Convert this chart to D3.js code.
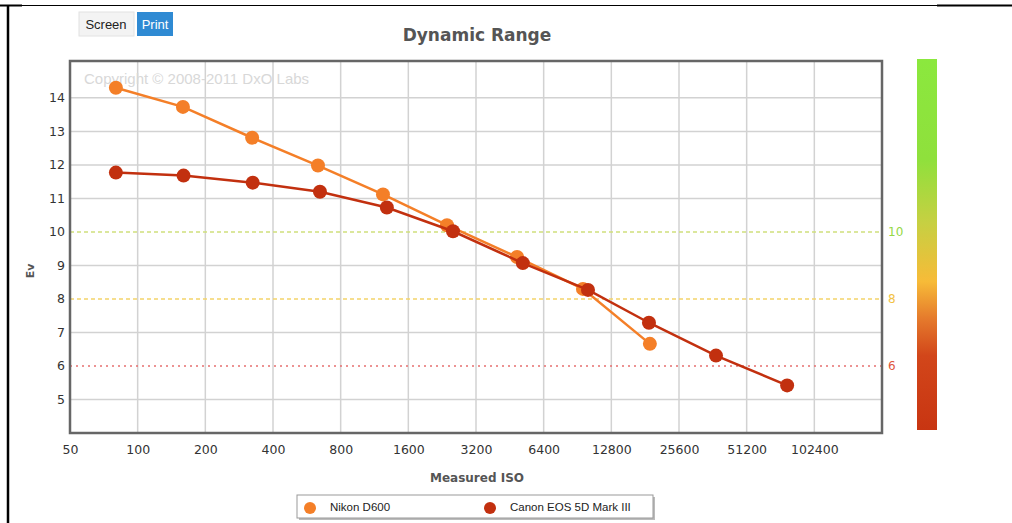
<!DOCTYPE html>
<html>
<head>
<meta charset="utf-8">
<script src="https://cdn.jsdelivr.net/npm/d3@7"></script>
<style>
    body { margin: 0; background: #fff; }
    svg { display: block; }
</style>
</head>
<body>
<svg id="chart"></svg>
<script>
//Данные графика
const nikonIso = [80, 159, 323, 634, 1234, 2378, 4872, 9570, 19000];
const nikonEv = [14.3, 13.73, 12.81, 11.98, 11.12, 10.2, 9.25, 8.3, 6.66];
const canonIso = [80, 160, 325, 647, 1284, 2528, 5170, 10080, 18820, 37400, 77500];
const canonEv = [11.77, 11.68, 11.47, 11.2, 10.73, 10.02, 9.07, 8.27, 7.29, 6.31, 5.42];
const isoTicks = [50, 100, 200, 400, 800, 1600, 3200, 6400, 12800, 25600, 51200, 102400];
const evTicks = [5, 6, 7, 8, 9, 10, 11, 12, 13, 14];
const thresholds = [10, 8, 6];
const thresholdColors = ["#cfe07c", "#f3d46a", "#e66f6f"];
const thresholdLabelColors = ["#95d846", "#f2c243", "#e0553c"];
const seriesNames = ["Nikon D600", "Canon EOS 5D Mark III"];
const seriesColors = ["#f47f28", "#c2300f"];

const width = 1012, height = 523;
const plot = {left: 70, top: 61, right: 882, bottom: 433};

const svg = d3.select("#chart")
    .attr("width", width)
    .attr("height", height)
    .style("font-family", "'DejaVu Sans', Verdana, sans-serif");

//Шкалы
const x = d3.scaleLog().base(2)
    .domain([50, 204800])
    .range([plot.left, plot.right]);
const y = d3.scaleLinear()
    .domain([4, 15.1])
    .range([plot.bottom, plot.top]);

//Рамка документа
svg.append("line")
    .attr("x1", 0).attr("x2", width)
    .attr("y1", 5.5).attr("y2", 5.5)
    .attr("stroke", "#000").attr("stroke-width", 1);
svg.append("line")
    .attr("x1", 0).attr("x2", 22)
    .attr("y1", 5.5).attr("y2", 5.5)
    .attr("stroke", "#000").attr("stroke-width", 2);
svg.append("line")
    .attr("x1", 937).attr("x2", width)
    .attr("y1", 5.5).attr("y2", 5.5)
    .attr("stroke", "#000").attr("stroke-width", 2);
svg.append("line")
    .attr("x1", 8).attr("x2", 8)
    .attr("y1", 5).attr("y2", height)
    .attr("stroke", "#000").attr("stroke-width", 2.5);

//Кнопки Screen / Print
svg.append("rect")
    .attr("x", 79).attr("y", 12).attr("width", 55).attr("height", 24)
    .attr("fill", "#f3f3f3").attr("stroke", "#e2e2e2");
svg.append("text")
    .attr("x", 106).attr("y", 28.5)
    .attr("text-anchor", "middle")
    .style("font-family", "'Liberation Sans', Arial, sans-serif")
    .style("font-size", "13px")
    .attr("fill", "#222")
    .text("Screen");
svg.append("rect")
    .attr("x", 137).attr("y", 12).attr("width", 36).attr("height", 24)
    .attr("fill", "#2f8ad3");
svg.append("text")
    .attr("x", 155).attr("y", 28.5)
    .attr("text-anchor", "middle")
    .style("font-family", "'Liberation Sans', Arial, sans-serif")
    .style("font-size", "13px")
    .attr("fill", "#fff")
    .text("Print");

//Заголовок
svg.append("text")
    .attr("x", 477).attr("y", 41)
    .attr("text-anchor", "middle")
    .style("font-size", "17px")
    .style("font-weight", "bold")
    .attr("fill", "#555")
    .text("Dynamic Range");

//Сетка
const grid = svg.append("g");
grid.selectAll(".vgrid")
    .data(isoTicks.slice(1))
    .join("line")
    .attr("x1", d => x(d)).attr("x2", d => x(d))
    .attr("y1", plot.top).attr("y2", plot.bottom)
    .attr("stroke", "#d2d2d2").attr("stroke-width", 1.5);
grid.selectAll(".hgrid")
    .data(evTicks.filter(d => !thresholds.includes(d)))
    .join("line")
    .attr("x1", plot.left).attr("x2", plot.right)
    .attr("y1", d => y(d)).attr("y2", d => y(d))
    .attr("stroke", "#d2d2d2").attr("stroke-width", 1.5);

//Пороговые линии
grid.selectAll(".threshold")
    .data(thresholds)
    .join("line")
    .attr("x1", plot.left).attr("x2", plot.right)
    .attr("y1", d => y(d)).attr("y2", d => y(d))
    .attr("stroke", (d, i) => thresholdColors[i])
    .attr("stroke-width", 1.5)
    .attr("stroke-dasharray", (d, i) => i == 2 ? "2,4" : "4,3");
svg.selectAll(".thresholdLabel")
    .data(thresholds)
    .join("text")
    .attr("x", plot.right + 6)
    .attr("y", d => y(d))
    .attr("dy", "0.35em")
    .style("font-size", "12px")
    .attr("fill", (d, i) => thresholdLabelColors[i])
    .text(d => d);

//Водяной знак
svg.append("text")
    .attr("x", 84).attr("y", 84)
    .style("font-family", "'Liberation Sans', Arial, sans-serif")
    .style("font-size", "15px")
    .attr("fill", "#d8d8d8")
    .text("Copyright © 2008-2011 DxO Labs");

//Оси
const xAxis = svg.append("g")
    .attr("transform", `translate(0, ${plot.bottom})`)
    .call(d3.axisBottom(x).tickValues(isoTicks).tickFormat(d => d).tickSize(0).tickPadding(12));
const yAxis = svg.append("g")
    .attr("transform", `translate(${plot.left}, 0)`)
    .call(d3.axisLeft(y).tickValues(evTicks).tickSize(0).tickPadding(5));
[xAxis, yAxis].forEach(axis => {
    axis.select(".domain").remove();
    axis.selectAll("text")
        .style("font-family", "'DejaVu Sans', Verdana, sans-serif")
        .style("font-size", "12.5px")
        .attr("fill", "#333");
});

//Подписи осей
svg.append("text")
    .attr("x", 477).attr("y", 482)
    .attr("text-anchor", "middle")
    .style("font-size", "12px")
    .style("font-weight", "bold")
    .attr("fill", "#555")
    .text("Measured ISO");
svg.append("text")
    .attr("transform", "translate(34, 271) rotate(-90)")
    .attr("text-anchor", "middle")
    .style("font-size", "11px")
    .style("font-weight", "bold")
    .attr("fill", "#555")
    .text("Ev");

//Серии данных
const series = [
    nikonIso.map((d, i) => ({iso: d, ev: nikonEv[i]})),
    canonIso.map((d, i) => ({iso: d, ev: canonEv[i]}))
];
const line = d3.line()
    .x(d => x(d.iso))
    .y(d => y(d.ev));

series.forEach((points, i) => {
    const g = svg.append("g");
    g.append("path")
        .attr("d", line(points))
        .attr("fill", "none")
        .attr("stroke", seriesColors[i])
        .attr("stroke-width", 2.5);
    g.selectAll("circle")
        .data(points)
        .join("circle")
        .attr("cx", d => x(d.iso))
        .attr("cy", d => y(d.ev))
        .attr("r", 7)
        .attr("fill", seriesColors[i]);
});

//Рамка области графика
svg.append("rect")
    .attr("x", plot.left).attr("y", plot.top)
    .attr("width", plot.right - plot.left)
    .attr("height", plot.bottom - plot.top)
    .attr("fill", "none")
    .attr("stroke", "#666")
    .attr("stroke-width", 2.5);

//Цветовая шкала справа
const defs = svg.append("defs");
const grad = defs.append("linearGradient")
    .attr("id", "dr_grad")
    .attr("x1", 0).attr("x2", 0).attr("y1", 0).attr("y2", 1);
const gradStops = [
    [0, "#8be83e"], [0.27, "#8fe03c"], [0.44, "#c6d042"], [0.6, "#f7bb38"],
    [0.7, "#e57a2c"], [0.8, "#d2461a"], [1, "#c83512"]
];
grad.selectAll("stop")
    .data(gradStops)
    .join("stop")
    .attr("offset", d => d[0])
    .attr("stop-color", d => d[1]);
svg.append("rect")
    .attr("x", 917).attr("y", 59)
    .attr("width", 20).attr("height", 371)
    .attr("fill", "url(#dr_grad)");

//Легенда
const legend = svg.append("g").attr("transform", "translate(297, 495)");
legend.append("rect")
    .attr("x", 2).attr("y", 2).attr("width", 356).attr("height", 23)
    .attr("fill", "#bbb");
legend.append("rect")
    .attr("width", 356).attr("height", 23)
    .attr("fill", "#fff").attr("stroke", "#999");
const legendX = [13, 193];
seriesNames.forEach((name, i) => {
    legend.append("circle")
        .attr("cx", legendX[i]).attr("cy", 13)
        .attr("r", 6)
        .attr("fill", seriesColors[i]);
    legend.append("text")
        .attr("x", legendX[i] + 20).attr("y", 16)
        .style("font-family", "'Liberation Sans', Arial, sans-serif")
        .style("font-size", "11.5px")
        .attr("fill", "#222")
        .text(name);
});
</script>
</body>
</html>
